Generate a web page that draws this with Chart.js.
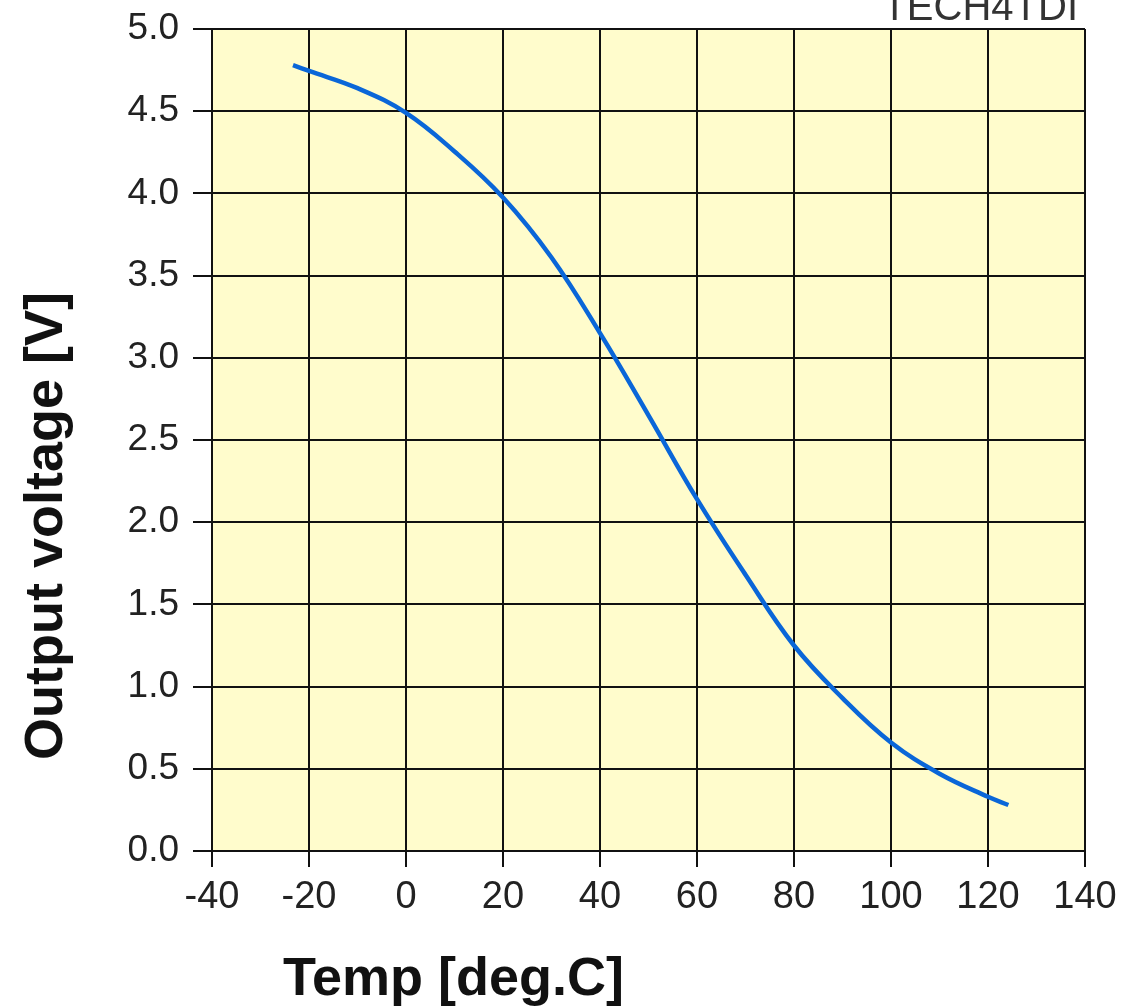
<!DOCTYPE html>
<html>
<head>
<meta charset="utf-8">
<script src="https://cdn.jsdelivr.net/npm/chart.js@4/dist/chart.umd.min.js"></script>
<style>
  html, body { margin: 0; padding: 0; background: #ffffff; }
  #wrap { width: 1124px; height: 1008px; }
</style>
</head>
<body>
<div id="wrap"><canvas id="c" width="1124" height="1008"></canvas></div>
<script>
// Sensor output voltage versus temperature
const temps = [-23.3, -20, -10, 0, 10, 20, 30, 40, 50, 60, 70, 80, 90, 100, 110, 120, 124.2];
const volts = [4.78, 4.745, 4.64, 4.49, 4.255, 3.975, 3.61, 3.15, 2.65, 2.14, 1.68, 1.25, 0.93, 0.66, 0.47, 0.33, 0.28];

const xTitle = 'Temp [deg.C]';
const yTitle = 'Output voltage [V]';
const tag = 'TECH4TDI';

const FONT = "'Liberation Sans', Arial, sans-serif";

// Pale yellow plot background plus axis titles and corner tag
const decor = {
  id: 'decor',
  beforeDraw(chart) {
    const { ctx, chartArea: a } = chart;
    ctx.save();
    ctx.fillStyle = '#fffccc';
    ctx.fillRect(a.left, a.top, a.right - a.left, a.bottom - a.top);
    ctx.restore();
  },
  afterDraw(chart) {
    const { ctx } = chart;
    ctx.save();
    ctx.fillStyle = '#111111';
    ctx.font = 'bold 54px ' + FONT;
    ctx.textBaseline = 'alphabetic';
    ctx.textAlign = 'left';
    ctx.fillText(xTitle, 283, 995);

    ctx.translate(62, 526);
    ctx.rotate(-Math.PI / 2);
    ctx.textAlign = 'center';
    ctx.fillText(yTitle, 0, 0);
    ctx.restore();

    ctx.save();
    ctx.fillStyle = '#333333';
    ctx.font = '40px ' + FONT;
    ctx.textAlign = 'right';
    ctx.textBaseline = 'alphabetic';
    ctx.fillText(tag, 1078, 20);
    ctx.restore();
  }
};

const points = temps.map((t, i) => ({ x: t, y: volts[i] }));

new Chart(document.getElementById('c'), {
  type: 'line',
  data: {
    datasets: [{
      data: points,
      borderColor: '#0a66d8',
      borderWidth: 4.5,
      pointRadius: 0,
      fill: false,
      tension: 0.4
    }]
  },
  options: {
    responsive: false,
    animation: false,
    devicePixelRatio: 1,
    layout: { padding: { left: 0, right: 39, top: 29, bottom: 0 } },
    plugins: {
      legend: { display: false },
      tooltip: { enabled: false }
    },
    scales: {
      x: {
        type: 'linear',
        min: -40,
        max: 140,
        afterFit(s) {
          s.height = 157;
          s.paddingLeft = 0;
          s.paddingRight = 0;
        },
        ticks: {
          stepSize: 20,
          padding: 12,
          color: '#222222',
          font: { family: FONT, size: 38, lineHeight: 1 },
          maxRotation: 0,
          autoSkip: false
        },
        grid: {
          color: '#111111',
          lineWidth: 2,
          tickLength: 16,
          drawTicks: true
        },
        border: { color: '#111111', width: 2 }
      },
      y: {
        min: 0,
        max: 5,
        afterFit(s) {
          s.width = 212;
          s.paddingTop = 0;
          s.paddingBottom = 0;
        },
        ticks: {
          stepSize: 0.5,
          padding: 14,
          color: '#222222',
          font: { family: FONT, size: 37, lineHeight: 1 },
          callback: v => Number(v).toFixed(1)
        },
        grid: {
          color: '#111111',
          lineWidth: 2,
          tickLength: 19,
          drawTicks: true
        },
        border: { color: '#111111', width: 2 }
      }
    }
  },
  plugins: [decor]
});
</script>
</body>
</html>
